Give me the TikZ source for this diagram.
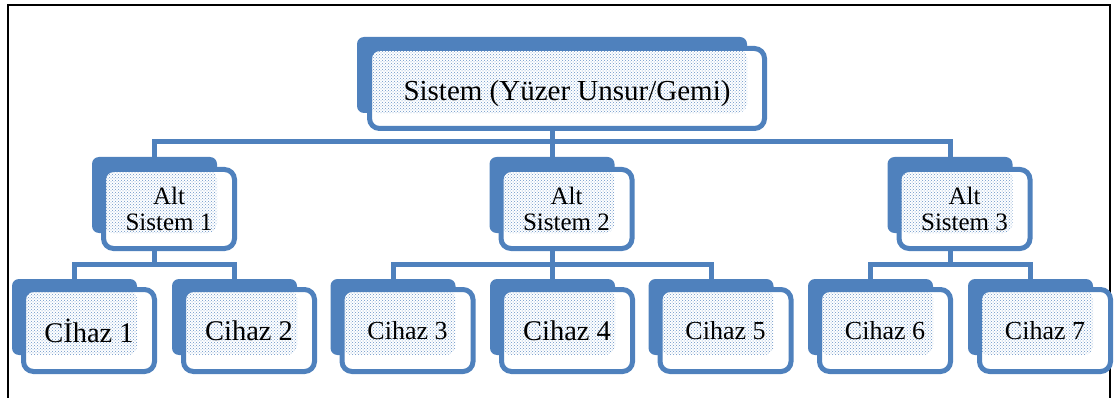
\documentclass[tikz,border=0pt]{standalone}
\usepackage{fontspec}
\setmainfont{Liberation Serif}
\usetikzlibrary{patterns}
\definecolor{smblue}{RGB}{79,129,189}
\tikzset{
  backbox/.style={fill=smblue, rounded corners=7pt, inner sep=0pt,
    minimum width=125pt, minimum height=76pt},
  frontbox/.style={draw=smblue, line width=5pt, fill=white, rounded corners=10pt,
    inner sep=0pt, align=center, minimum width=131pt, minimum height=82pt,
    path picture={\fill[pattern=crosshatch dots, pattern color=smblue!85]
      (path picture bounding box.north west) rectangle (#1.south east);}},
  link/.style={draw=smblue, line width=5pt},
  fs/.style={font=\fontsize{#1}{#1}\selectfont},
}
\begin{document}
\begin{tikzpicture}[x=1pt,y=-1pt]
\useasboundingbox (0,0) rectangle (1116,398);
% cadre
\draw [line width=2pt] (8,402) -- (8,5) -- (1110,5) -- (1110,402);
% systeme
\node [backbox, minimum width=390pt] (topb) at (552,75) {};
\node [frontbox=topb, fs=29, text height=29.5pt, text depth=6pt, minimum width=395pt, minimum height=80pt] (top) at (567,88.5) {Sistem (Yüzer Unsur/Gemi)};
% sous-systemes
\foreach \i/\x in {1/154.5, 2/552, 3/950} {
  \node [backbox] (ab\i) at (\x,195) {};
  \node [frontbox=ab\i, font=\fontsize{25}{26}\selectfont, minimum height=79pt] (a\i) at (\x+14.5,209) {Alt\\Sistem \i};
}
% cihazlar
\foreach \i/\x/\s/\txt in {1/74.5/28.5/Cİhaz 1, 2/234.5/28.5/Cihaz 2, 3/393/26/Cihaz 3,
    4/552.5/28.5/Cihaz 4, 5/711/26/Cihaz 5, 6/870.5/26/Cihaz 6, 7/1030.5/26/Cihaz 7} {
  \node [backbox] (cb\i) at (\x,317) {};
  \node [frontbox=cb\i, fs=\s] (c\i) at (\x+14.5,330.5) {\txt};
}
% liens
\foreach \i in {1,2,3}
  \draw [link] (topb.south |- top.south) -- ++(0,11) -| (ab\i.north);
\foreach \a/\c in {1/1, 1/2, 2/3, 2/4, 2/5, 3/6, 3/7}
  \draw [link] (ab\a.south |- a\a.south) -- ++(0,13) -| (cb\c.north);
\end{tikzpicture}
\end{document}
